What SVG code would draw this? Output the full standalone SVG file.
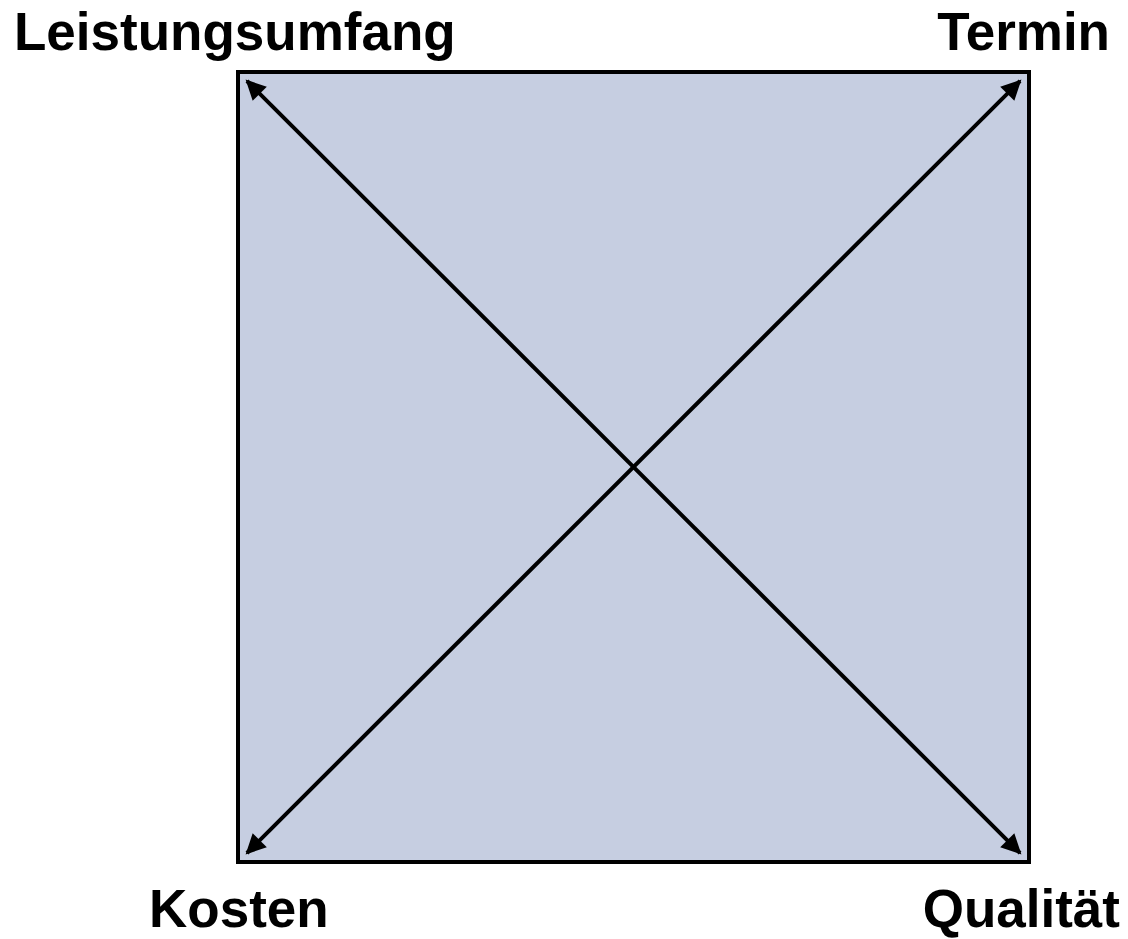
<svg xmlns="http://www.w3.org/2000/svg" width="1128" height="939" viewBox="0 0 1128 939">
<style>
.lbl{font-family:"Liberation Sans",Arial,sans-serif;font-weight:bold;font-size:53px;fill:#000}
.conn{stroke:#000;stroke-width:4;fill:none}
</style>
<defs>
<marker id="ah" viewBox="0 0 10 10" refX="9" refY="5" markerWidth="5.5" markerHeight="5" orient="auto-start-reverse" markerUnits="strokeWidth">
<path d="M0,0 L10,5 L0,10 z" fill="#000"/>
</marker>
</defs>
<rect width="1128" height="939" fill="#fff"/>
<g id="square">
<rect x="238" y="72" width="791" height="790" fill="#C6CEE1" stroke="#000" stroke-width="4"/>
</g>
<g id="connectors">
<line class="conn" x1="247" y1="81" x2="1020" y2="853" marker-start="url(#ah)" marker-end="url(#ah)"/>
<line class="conn" x1="247" y1="853" x2="1020" y2="81" marker-start="url(#ah)" marker-end="url(#ah)"/>
</g>
<g id="leistungsumfang"><text class="lbl" x="14" y="50">Leistungsumfang</text></g>
<g id="termin"><text class="lbl" x="1110" y="50" text-anchor="end">Termin</text></g>
<g id="kosten"><text class="lbl" x="149" y="927">Kosten</text></g>
<g id="qualitaet"><text class="lbl" x="1120" y="927" text-anchor="end">Qualität</text></g>
</svg>
